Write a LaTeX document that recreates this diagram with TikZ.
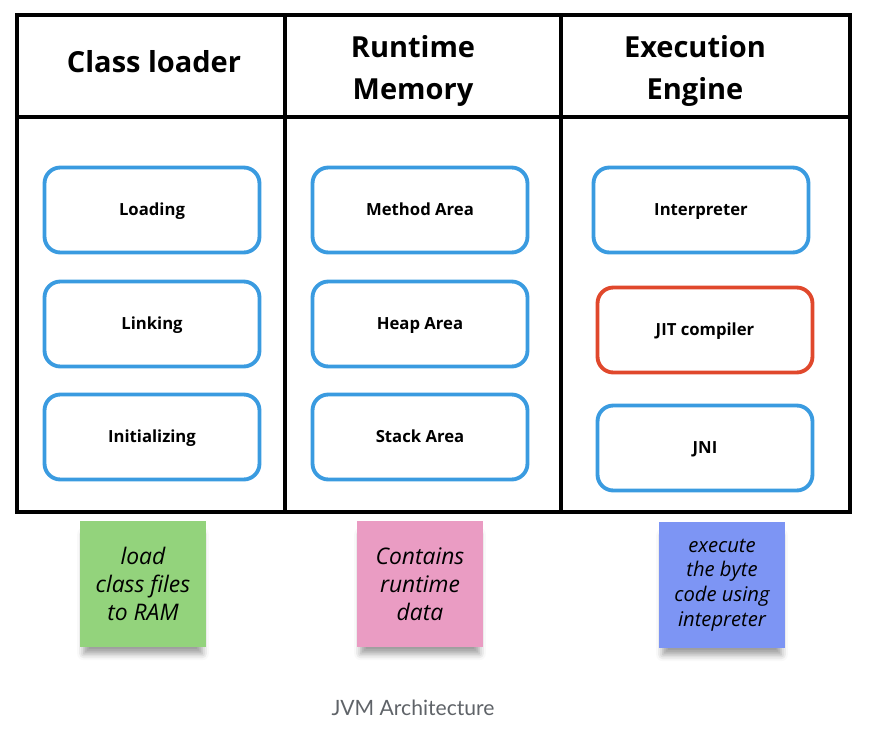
\documentclass[tikz,border=0pt]{standalone}
\usepackage{fontspec}
\setmainfont{Open Sans}
\newfontfamily\captionfont{Lato}
\usetikzlibrary{shadows.blur}

\definecolor{boxblue}{HTML}{3A9BE0}
\definecolor{boxred}{HTML}{E0482C}
\definecolor{notegreen}{HTML}{93D37C}
\definecolor{notepink}{HTML}{EA9CC3}
\definecolor{noteblue}{HTML}{7D95F4}
\definecolor{captiongray}{HTML}{5F6368}

\begin{document}
\begin{tikzpicture}[x=0.02cm,y=-0.02cm,
    part/.style={draw=boxblue,line width=2.2pt,rounded corners=9pt,
      minimum width=4.3cm,minimum height=1.7cm,
      text height=1.6ex,text depth=0.45ex,
      font=\fontsize{9.5}{11}\selectfont\bfseries},
    head/.style={align=center,font=\fontsize{16.5}{24}\selectfont\bfseries},
    note/.style={minimum width=2.52cm,minimum height=2.54cm,align=center,
      blur shadow={shadow xshift=0pt,shadow yshift=-6pt,shadow scale=0.94,
        shadow blur radius=4pt,shadow opacity=40},
      font=\fontsize{13}{16}\selectfont\itshape}]

      \useasboundingbox (0,0) rectangle (870,738);

      % Rahmen
      \coordinate (A) at (17,15);
      \coordinate (B) at (850,15);
      \coordinate (C) at (850,512);
      \coordinate (D) at (17,512);
      \draw[line width=2.4pt] (A)--(B)--(C)--(D)--cycle;

      % Kopfzeile und Spalten
      \draw[line width=1.8pt] (17,117) -- (850,117);
      \draw[line width=1.8pt] (285,15) -- (285,512);
      \draw[line width=1.8pt] (561,15) -- (561,512);

      % Titel
      \node[head] (loader) at (154,62) {Class loader};
      \node[head] (memory) at (413,71) {Runtime\\Memory};
      \node[head] (engine) at (695,71) {Execution\\Engine};

      % Class loader
      \node[part] (loading) at (152,210) {Loading};
      \node[part] (linking) at (152,324) {Linking};
      \node[part] (init) at (152,437) {Initializing};

      % Runtime memory
      \node[part] (method) at (420,210) {Method Area};
      \node[part] (heap) at (420,324) {Heap Area};
      \node[part] (stack) at (420,437) {Stack Area};

      % Execution engine
      \node[part] (interp) at (701,210) {Interpreter};
      \node[part,draw=boxred] (jit) at (705,330) {JIT compiler};
      \node[part] (jni) at (705,448) {JNI};

      % Zettel
      \node[note,fill=notegreen] (notea) at (143,584) {load\\class files\\to RAM};
      \node[note,fill=notepink] (noteb) at (420,584) {Contains\\runtime\\data};
      \node[note,fill=noteblue,font=\fontsize{11.5}{14}\selectfont\itshape]
        (notec) at (722,585) {execute\\the byte\\code using\\intepreter};

      % Unterschrift
      \node[font=\captionfont\fontsize{12}{14}\selectfont,text=captiongray]
        (caption) at (413,708) {JVM Architecture};

    \end{tikzpicture}
\end{document}
